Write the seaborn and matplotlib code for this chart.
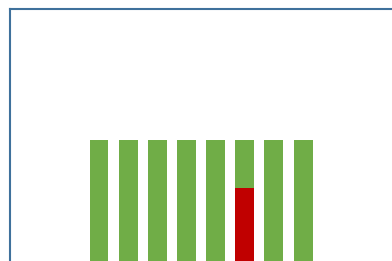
import matplotlib
matplotlib.use('Agg')
import seaborn as sns
import matplotlib.pyplot as plt

# bar data (fraction of full height)
categories = ['1', '2', '3', '4', '5', '6', '7', '8']
totals = [1.0, 1.0, 1.0, 1.0, 1.0, 1.0, 1.0, 1.0]
highlight = [0, 0, 0, 0, 0, 0.60, 0, 0]

green = '#70ad47'
red = '#c00000'
frame = '#3f719c'

sns.set_style('white')

fig = plt.figure(figsize=(3.92, 2.61), dpi=100)
# axes runs off the right and bottom edges of the picture
ax = fig.add_axes([10 / 392, 0, 400 / 392, 252 / 261])

sns.barplot(x=categories, y=totals, color=green, saturation=1, width=0.65, linewidth=0, ax=ax)
sns.barplot(x=categories, y=highlight, color=red, saturation=1, width=0.65, linewidth=0, ax=ax)

ax.set_xlim(-3.054, 10.67)
ax.set_ylim(0, 2.083)
ax.set_xticks([])
ax.set_yticks([])
ax.set_xlabel('')
ax.set_ylabel('')

for side in ['right', 'bottom']:
  ax.spines[side].set_visible(False)
for side in ['left', 'top']:
  ax.spines[side].set_color(frame)
  ax.spines[side].set_linewidth(1.5)

fig.savefig('out.png', dpi=100)
